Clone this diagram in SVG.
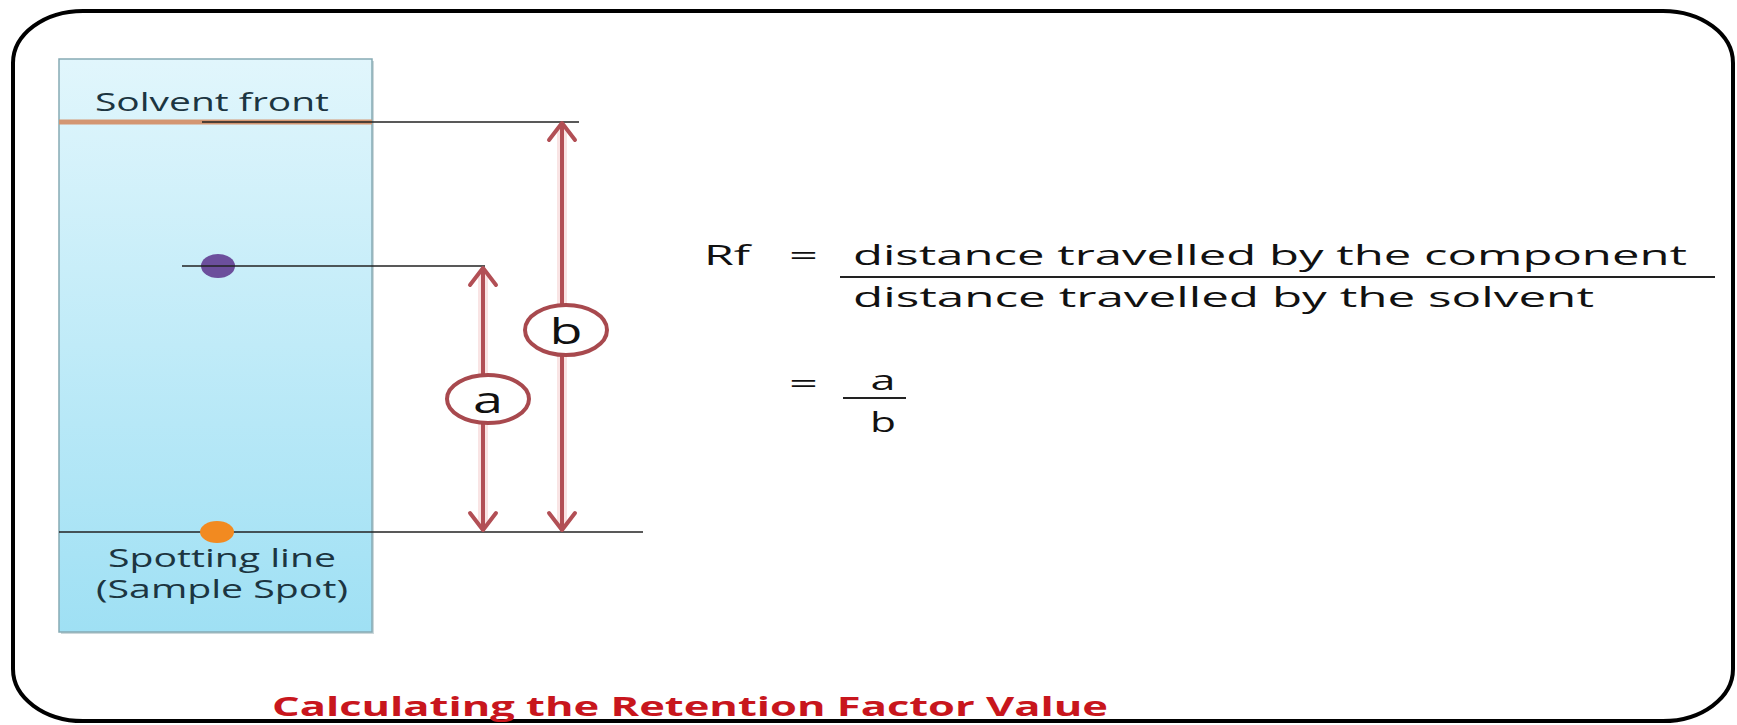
<svg xmlns="http://www.w3.org/2000/svg" width="1737" height="725" viewBox="0 0 1737 725">
  <defs>
    <linearGradient id="plate" x1="0" y1="0" x2="0" y2="1">
      <stop offset="0" stop-color="#e1f6fc"/>
      <stop offset="1" stop-color="#9fe0f4"/>
    </linearGradient>
    <marker id="chev" viewBox="-20 -16 24 32" refX="0" refY="0" markerWidth="24" markerHeight="32" markerUnits="userSpaceOnUse" orient="auto-start-reverse">
      <path d="M-17,-13 L0,0 L-17,13" fill="none" stroke="#b24f55" stroke-width="4" stroke-linecap="round" stroke-linejoin="round"/>
    </marker>
    <style>
      .lbl { font-family: "Open Sans", "Liberation Sans", sans-serif; fill: #1c3541; font-size: 25px; }
      .frm { font-family: "Open Sans", "Liberation Sans", sans-serif; fill: #111; font-size: 28px; }
      .circ { fill: #fff; stroke: #a8494e; stroke-width: 4; }
      .ctxt { font-family: "Open Sans", "Liberation Sans", sans-serif; fill: #111; font-size: 37px; }
      .guide { stroke: #222; stroke-width: 1.6; fill: none; }
      .arrow { stroke: #b24f55; stroke-width: 4; fill: none; marker-start: url(#chev); marker-end: url(#chev); }
      .glow { stroke: #f3c9ca; stroke-width: 10; fill: none; opacity: 0.5; }
      .title { font-family: "Open Sans", "Liberation Sans", sans-serif; font-weight: bold; fill: #c8161d; font-size: 27px; }
    </style>
  </defs>

  <g id="frame">
    <rect x="13" y="11" width="1720" height="710" rx="70" ry="52" fill="#fff" stroke="#000" stroke-width="4"/>
  </g>

  <g id="plate-node">
    <rect x="61" y="61" width="313" height="573" fill="#6f8f98" opacity="0.35"/>
    <rect x="59" y="59" width="313" height="573" fill="url(#plate)" stroke="#86aab4" stroke-width="1.5"/>
    <line x1="59" y1="122" x2="372" y2="122" stroke="#d39672" stroke-width="5"/>
  </g>

  <g id="component-spot">
    <ellipse cx="218" cy="266" rx="17" ry="12" fill="#6c4f9c"/>
  </g>

  <g id="connectors">
    <line class="guide" x1="202" y1="122" x2="579" y2="122"/>
    <line class="guide" x1="182" y1="266" x2="485" y2="266"/>
    <line class="guide" x1="59" y1="532" x2="643" y2="532"/>
    <line class="glow" x1="483" y1="272" x2="483" y2="526"/>
    <line class="glow" x1="562" y1="127" x2="562" y2="526"/>
    <line class="arrow" x1="483" y1="268" x2="483" y2="530"/>
    <line class="arrow" x1="562" y1="123" x2="562" y2="530"/>
  </g>

  <g id="sample-spot">
    <ellipse cx="217" cy="532" rx="17" ry="11" fill="#f28a20"/>
  </g>

  <g id="label-solvent-front">
    <text class="lbl" x="95" y="111" textLength="234" lengthAdjust="spacingAndGlyphs">Solvent front</text>
  </g>

  <g id="label-spotting-line">
    <text class="lbl" x="108" y="567" font-size="24" textLength="228" lengthAdjust="spacingAndGlyphs">Spotting line</text>
    <text class="lbl" x="96" y="598" font-size="24" textLength="252" lengthAdjust="spacingAndGlyphs">(Sample Spot)</text>
  </g>

  <g id="circle-a">
    <ellipse class="circ" cx="488" cy="399" rx="41" ry="24"/>
    <text class="ctxt" x="488" y="413" text-anchor="middle" textLength="30" lengthAdjust="spacingAndGlyphs">a</text>
  </g>

  <g id="circle-b">
    <ellipse class="circ" cx="566" cy="330" rx="41" ry="25"/>
    <text class="ctxt" x="566" y="344" text-anchor="middle" textLength="33" lengthAdjust="spacingAndGlyphs">b</text>
  </g>

  <g id="formula">
    <text class="frm" x="704" y="265" textLength="46" lengthAdjust="spacingAndGlyphs">Rf</text>
    <text class="frm" x="789" y="265" textLength="29" lengthAdjust="spacingAndGlyphs">=</text>
    <text class="frm" x="853" y="265" textLength="834" lengthAdjust="spacingAndGlyphs">distance travelled by the component</text>
    <line x1="840" y1="277" x2="1715" y2="277" stroke="#222" stroke-width="2"/>
    <text class="frm" x="853" y="307" textLength="741" lengthAdjust="spacingAndGlyphs">distance travelled by the solvent</text>
    <text class="frm" x="789" y="393" textLength="29" lengthAdjust="spacingAndGlyphs">=</text>
    <text class="frm" x="883" y="390" text-anchor="middle" textLength="25" lengthAdjust="spacingAndGlyphs">a</text>
    <line x1="843" y1="398" x2="906" y2="398" stroke="#222" stroke-width="2"/>
    <text class="frm" x="883" y="432" text-anchor="middle" textLength="26" lengthAdjust="spacingAndGlyphs">b</text>
  </g>

  <g id="title">
    <text class="title" x="272" y="716" font-size="28" textLength="836" lengthAdjust="spacingAndGlyphs">Calculating the Retention Factor Value</text>
  </g>
</svg>
